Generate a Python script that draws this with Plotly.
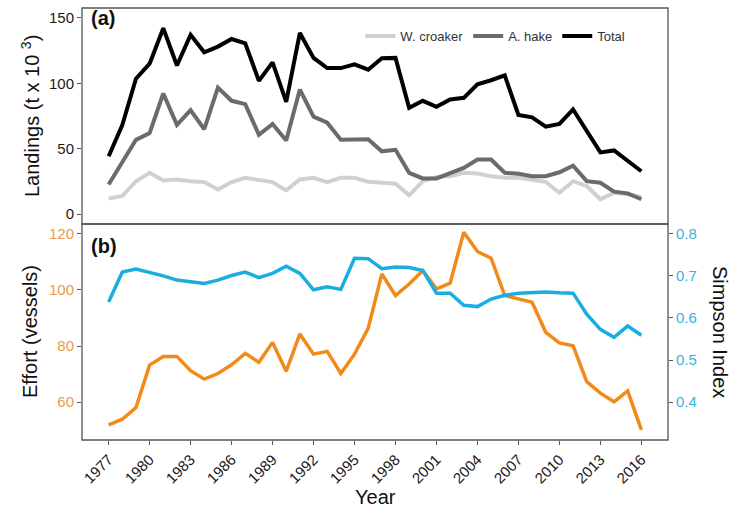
import plotly.graph_objects as go

years = list(range(1977, 2017))

# Landings (t x 10^3)
w_croaker = [11.9, 13.9, 25.2, 31.6, 25.8, 26.5, 25.2, 24.5, 18.9, 24.5,
             27.8, 26.0, 24.5, 18.2, 26.5, 27.8, 24.5, 27.8, 27.8, 24.7,
             24.0, 23.2, 14.4, 25.2, 28.5, 29.0, 31.6, 31.0, 29.0, 27.8,
             27.8, 26.5, 24.7, 16.4, 25.2, 21.5, 11.4, 16.4, 15.2, 13.2]
a_hake = [22.7, 39.1, 56.8, 61.9, 92.2, 68.2, 79.5, 64.9, 96.7, 86.6,
          84.1, 60.6, 68.9, 56.3, 95.2, 74.5, 69.9, 56.8, 57.3, 57.3,
          48.0, 49.2, 31.6, 27.3, 27.3, 31.6, 35.4, 41.7, 41.7, 31.6,
          30.8, 29.0, 29.0, 32.0, 37.1, 25.2, 24.0, 17.2, 15.9, 11.4]
total = [44.2, 68.0, 103.5, 115.0, 142.0, 113.6, 137.0, 123.7, 128.0, 133.8,
         130.5, 101.8, 116.0, 85.8, 138.4, 119.4, 111.6, 111.6, 114.4, 110.4,
         119.2, 119.4, 81.3, 86.6, 82.0, 87.6, 88.9, 99.2, 102.3, 106.0,
         75.8, 74.0, 66.9, 69.0, 80.0, 63.9, 47.2, 48.7, 40.9, 32.8]

# Fishing effort (vessels) and Simpson diversity index
effort = [51.9, 53.9, 58.1, 73.2, 76.3, 76.3, 71.2, 68.2, 70.2, 73.3,
          77.4, 74.2, 81.3, 71.0, 84.3, 77.1, 78.1, 70.2, 77.1, 86.3,
          105.7, 98.0, 102.1, 106.9, 100.4, 102.4, 120.6, 113.7, 111.3, 98.0,
          96.8, 95.6, 84.9, 81.1, 80.1, 67.3, 63.2, 60.1, 64.0, 50.1]
simpson = [0.638, 0.709, 0.716, 0.709, 0.700, 0.690, 0.686, 0.682, 0.690, 0.701,
           0.709, 0.696, 0.706, 0.723, 0.706, 0.667, 0.674, 0.668, 0.742, 0.741,
           0.717, 0.721, 0.720, 0.713, 0.659, 0.659, 0.630, 0.627, 0.645, 0.654,
           0.659, 0.660, 0.662, 0.660, 0.659, 0.609, 0.573, 0.554, 0.581, 0.559]

year_ticks = sorted(set(list(range(1977, 2017, 3)) + [2016]))

FONT = "Liberation Sans, Arial, sans-serif"
FRAME = "#555555"
ORANGE = "#F28A1A"
BLUE = "#1AAEE0"
ORANGE_TXT = "#EA9C4A"
BLUE_TXT = "#3AB2DC"

fig = go.Figure()

fig.add_trace(go.Scatter(x=years, y=w_croaker, name="W. croaker", mode="lines",
                         line=dict(color="#D0D0D0", width=4), xaxis="x", yaxis="y"))
fig.add_trace(go.Scatter(x=years, y=a_hake, name="A. hake", mode="lines",
                         line=dict(color="#6B6B6B", width=4), xaxis="x", yaxis="y"))
fig.add_trace(go.Scatter(x=years, y=total, name="Total", mode="lines",
                         line=dict(color="#000000", width=4), xaxis="x", yaxis="y"))

fig.add_trace(go.Scatter(x=years, y=effort, name="Effort", mode="lines", showlegend=False,
                         line=dict(color=ORANGE, width=3.5), xaxis="x", yaxis="y2"))
fig.add_trace(go.Scatter(x=years, y=simpson, name="Simpson", mode="lines", showlegend=False,
                         line=dict(color=BLUE, width=3.5), xaxis="x", yaxis="y3"))

eff_range = [46.5, 123.5]

fig.update_layout(
    width=732, height=512,
    margin=dict(l=82, r=64, t=8, b=72),
    paper_bgcolor="white", plot_bgcolor="white",
    font=dict(family=FONT, color="#4D4D4D"),
    xaxis=dict(domain=[0, 1], anchor="y2", range=[1975.05, 2017.95],
               tickmode="array", tickvals=year_ticks, ticktext=[str(y) for y in year_ticks],
               tickangle=-45, ticks="outside", ticklen=4, tickcolor=FRAME,
               tickfont=dict(size=15, color="#1A1A1A"),
               showgrid=False, zeroline=False, showline=False),
    yaxis=dict(domain=[0.5, 1], anchor="x", range=[-7.5, 157.5],
               tickvals=[0, 50, 100, 150], ticks="outside", ticklen=4, tickcolor=FRAME,
               tickfont=dict(size=15, color="#1A1A1A"),
               showgrid=False, zeroline=False, showline=False),
    yaxis2=dict(domain=[0, 0.5], anchor="x", range=eff_range,
                tickvals=[60, 80, 100, 120], ticks="outside", ticklen=4, tickcolor=FRAME,
                tickfont=dict(size=15, color=ORANGE_TXT),
                showgrid=False, zeroline=False, showline=False),
    yaxis3=dict(overlaying="y2", side="right", anchor="x",
                range=[eff_range[0] / 150, eff_range[1] / 150],
                tickvals=[0.4, 0.5, 0.6, 0.7, 0.8], ticks="outside", ticklen=4, tickcolor=FRAME,
                tickfont=dict(size=15, color=BLUE_TXT),
                showgrid=False, zeroline=False, showline=False),
    legend=dict(orientation="h", x=0.475, y=0.935, xanchor="left", yanchor="middle",
                bgcolor="rgba(0,0,0,0)", font=dict(size=13, color="#333333"),
                itemwidth=30, tracegroupgap=0),
    showlegend=True,
)

# Panel frames
fig.add_shape(type="rect", xref="paper", yref="y domain", x0=0, x1=1, y0=0, y1=1,
              line=dict(color=FRAME, width=1.3), layer="below")
fig.add_shape(type="rect", xref="paper", yref="y2 domain", x0=0, x1=1, y0=0, y1=1,
              line=dict(color=FRAME, width=1.3), layer="below")

# Panel tags and axis titles
fig.add_annotation(text="<b>(a)</b>", xref="paper", yref="y domain", x=0.012, y=0.955,
                   xanchor="left", yanchor="middle", showarrow=False,
                   font=dict(size=20, color="#111111"))
fig.add_annotation(text="<b>(b)</b>", xref="paper", yref="y2 domain", x=0.012, y=0.90,
                   xanchor="left", yanchor="middle", showarrow=False,
                   font=dict(size=20, color="#111111"))
fig.add_annotation(text="Landings (t x 10 <sup>3</sup>)", xref="paper", yref="y domain",
                   x=0, y=0.5, xshift=-52, textangle=-90, showarrow=False,
                   xanchor="center", yanchor="middle",
                   font=dict(size=20, color="#111111"))
fig.add_annotation(text="Effort (vessels)", xref="paper", yref="y2 domain",
                   x=0, y=0.5, xshift=-52, textangle=-90, showarrow=False,
                   xanchor="center", yanchor="middle",
                   font=dict(size=20, color="#111111"))
fig.add_annotation(text="Simpson Index", xref="paper", yref="y2 domain",
                   x=1, y=0.5, xshift=52, textangle=90, showarrow=False,
                   xanchor="center", yanchor="middle",
                   font=dict(size=20, color="#111111"))
fig.add_annotation(text="Year", xref="paper", yref="paper",
                   x=0.5, y=0, yshift=-57, showarrow=False,
                   xanchor="center", yanchor="middle",
                   font=dict(size=20, color="#111111"))

fig.write_html("out.html")
